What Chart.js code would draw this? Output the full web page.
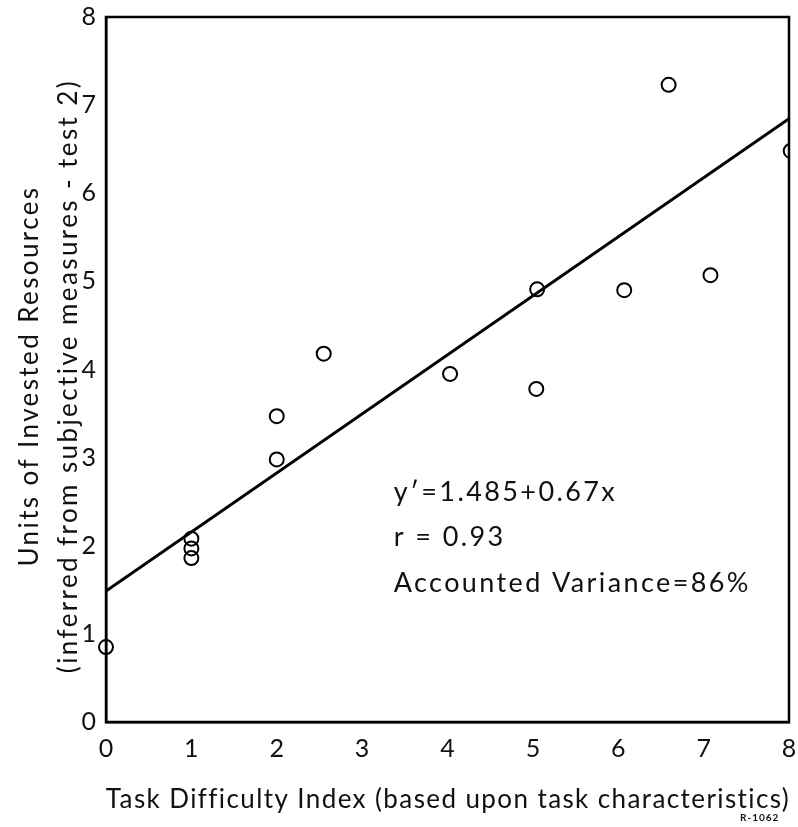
<!DOCTYPE html>
<html lang="en">
<head>
  <meta charset="UTF-8">
  <title>Task Difficulty vs Invested Resources</title>
  <script src="https://cdn.jsdelivr.net/npm/chart.js"></script>
  <style>
    body { margin: 0; background: #fff; }
    canvas { display: block; }
  </style>
</head>
<body>
  <canvas id="chart" width="798" height="827"></canvas>

  <script>
    // data
    const difficulty = [0, 1, 1, 1, 2, 2, 2.55, 4.03, 5.04, 5.05, 6.07, 7.08, 6.59, 8.02];
    const resources  = [0.85, 2.08, 1.97, 1.86, 2.98, 3.47, 4.18, 3.95, 3.78, 4.91, 4.9, 5.07, 7.23, 6.48];

    // regression line y' = 1.485 + 0.67x, end points
    const fitX = [0, 8];
    const fitY = [1.485, 6.845];

    const xTicks = [0, 1, 2, 3, 4, 5, 6, 7, 8];
    const yTicks = [0, 1, 2, 3, 4, 5, 6, 7, 8];

    const xTitle = 'Task Difficulty Index (based upon task characteristics)';
    const yTitle = ['Units of Invested Resources', '(inferred from subjective measures - test 2)'];
    const notes = ["y′=1.485+0.67x", "r = 0.93", "Accounted Variance=86%"];

    const FONT = "Lato, 'DejaVu Sans', sans-serif";

    // frame, axis titles and the stats block (the scan's font is wide, so letter spacing)
    const frame = {
      id: 'frame',
      afterDatasetsDraw(chart) {
        const { ctx, chartArea: a, scales } = chart;
        ctx.save();
        ctx.strokeStyle = '#000';
        ctx.lineWidth = 2.5;
        ctx.strokeRect(a.left, a.top, a.right - a.left, a.bottom - a.top);

        ctx.fillStyle = '#111';
        ctx.textBaseline = 'middle';
        ctx.font = '26px ' + FONT;

        // x title
        ctx.letterSpacing = '1.4px';
        let w = ctx.measureText(xTitle).width;
        ctx.fillText(xTitle, 448 - w / 2, 800);

        // y title, two rotated lines
        ctx.letterSpacing = '2.4px';
        ctx.save();
        ctx.translate(30, 376);
        ctx.rotate(-Math.PI / 2);
        yTitle.forEach((t, i) => {
          const tw = ctx.measureText(t).width;
          ctx.fillText(t, -tw / 2, i * 39);
        });
        ctx.restore();

        // stats text
        ctx.font = '27px ' + FONT;
        ctx.letterSpacing = '2.4px';
        const x = scales.x.getPixelForValue(3.37);
        const rows = [2.61, 2.1, 1.57];
        notes.forEach((t, i) => ctx.fillText(t, x, scales.y.getPixelForValue(rows[i])));

        ctx.letterSpacing = '1px';
        ctx.font = 'bold 10px ' + FONT;
        ctx.fillText('R-1062', 740, 818);
        ctx.restore();
      }
    };

    new Chart(document.getElementById('chart'), {
      type: 'scatter',
      data: {
        datasets: [
          {
            label: 'observed',
            data: difficulty.map((x, i) => ({ x, y: resources[i] })),
            pointStyle: 'circle',
            pointRadius: 7,
            pointBorderWidth: 2,
            pointBorderColor: '#000',
            pointBackgroundColor: 'rgba(0,0,0,0)',
            clip: { left: false, top: false, right: 0, bottom: false },
          },
          {
            label: 'fit',
            type: 'line',
            data: fitX.map((x, i) => ({ x, y: fitY[i] })),
            borderColor: '#000',
            borderWidth: 3,
            pointRadius: 0,
            fill: false,
          }
        ]
      },
      options: {
        responsive: false,
        animation: false,
        layout: { padding: { top: 6, right: 0, bottom: 0, left: 0 } },
        plugins: {
          legend: { display: false },
          tooltip: { enabled: false }
        },
        scales: {
          x: {
            type: 'linear',
            min: 0, max: 8,
            afterBuildTicks: s => { s.ticks = xTicks.map(v => ({ value: v })); },
            afterFit: s => { s.height = 105; s.paddingRight = 5; },
            grid: { display: false },
            border: { display: true, color: '#000', width: 2.5 },
            ticks: { color: '#111', font: { family: FONT, size: 25 }, padding: 4 },
            title: { display: false }
          },
          y: {
            type: 'linear',
            min: 0, max: 8,
            afterBuildTicks: s => { s.ticks = yTicks.map(v => ({ value: v })); },
            afterFit: s => { s.width = 106; },
            grid: { display: false },
            border: { display: true, color: '#000', width: 2.5 },
            ticks: { color: '#111', font: { family: FONT, size: 25 }, padding: 2 },
            title: { display: false }
          }
        }
      },
      plugins: [frame]
    });
  </script>
</body>
</html>
